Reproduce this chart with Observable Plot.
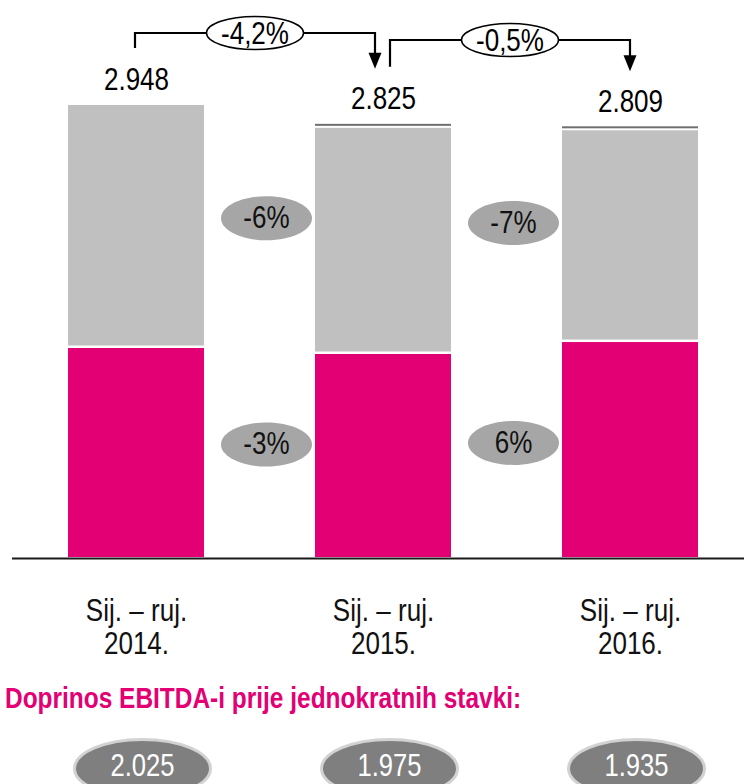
<!DOCTYPE html>
<html>
<head>
<meta charset="utf-8">
<script src="https://cdn.jsdelivr.net/npm/d3@7"></script>
<script src="https://cdn.jsdelivr.net/npm/@observablehq/plot@0.6"></script>
<style>
  body { margin: 0; background: #fff; }
  #title {
    height: 60px; line-height: 60px; padding-left: 5px; white-space: nowrap; overflow: hidden;
  }
  #title span {
    display: inline-block; transform: scaleX(0.815); transform-origin: 0 50%;
    font-family: "Liberation Sans", Arial, sans-serif; font-weight: bold;
    font-size: 30px; color: #e20074;
  }
</style>
</head>
<body>
<div id="chart"></div>
<div id="title"><span>Doprinos EBITDA-i prije jednokratnih stavki:</span></div>
<div id="ebitda"></div>
<script>
// ---- data ----
const categories = ["2014", "2015", "2016"];
const periodLabels = ["Sij. – ruj.\n2014.", "Sij. – ruj.\n2015.", "Sij. – ruj.\n2016."];
const pinkValues = [1363, 1324, 1402];
const grayValues = [1585, 1475, 1381];
const otherValues = [0, 26, 26];
const totals = [2948, 2825, 2809];
const grayChange = ["-6%", "-7%"];
const pinkChange = ["-3%", "6%"];
const totalChange = ["-4,2%", "-0,5%"];
const ebitdaValues = [2025, 1975, 1935];

// ---- helpers ----
const hr = d3.formatLocale({decimal: ",", thousands: ".", grouping: [3], currency: ["", ""]});
const fmt = hr.format(",");
const FONT = "'Liberation Sans', Arial, sans-serif";
const ellipse = (rx, ry) => ({
  draw(ctx) {
    const k = 0.5523;
    ctx.moveTo(rx, 0);
    ctx.bezierCurveTo(rx, ry * k, rx * k, ry, 0, ry);
    ctx.bezierCurveTo(-rx * k, ry, -rx, ry * k, -rx, 0);
    ctx.bezierCurveTo(-rx, -ry * k, -rx * k, -ry, 0, -ry);
    ctx.bezierCurveTo(rx * k, -ry, rx, -ry * k, rx, 0);
    ctx.closePath();
  }
});
// condense glyphs (the reference uses a narrow typeface)
function squeeze(root, f) {
  root.querySelectorAll("text").forEach(t => {
    const spans = t.querySelectorAll("tspan");
    const targets = spans.length ? Array.from(spans) : [t];
    targets.forEach(el => {
      const L = el.getComputedTextLength();
      if (L > 0) {
        el.setAttribute("textLength", L * f);
        el.setAttribute("lengthAdjust", "spacingAndGlyphs");
      }
    });
  });
}

const rows = categories.map((c, i) => ({
  cat: c, label: periodLabels[i], pink: pinkValues[i], gray: grayValues[i],
  other: otherValues[i], total: totals[i]
}));
const changes = grayChange.map((g, i) => ({
  to: categories[i + 1], gray: g, pink: pinkChange[i],
  grayMid: ((rows[i].pink + rows[i].gray / 2) + (rows[i + 1].pink + rows[i + 1].gray / 2)) / 2,
  pinkMid: (rows[i].pink / 2 + rows[i + 1].pink / 2) / 2
}));

const xScale = {type: "band", domain: categories, range: [18.6, 747.4], paddingInner: 0.4494, paddingOuter: 0.2};

const chart = Plot.plot({
  width: 744, height: 668,
  marginTop: 105, marginBottom: 111, marginLeft: 12, marginRight: 0,
  style: {fontFamily: FONT, background: "white"},
  x: {...xScale, axis: null},
  y: {domain: [0, d3.max(totals)], axis: null},
  marks: [
    Plot.barY(rows, {x: "cat", y1: 0, y2: "pink", fill: "#e20074"}),
    Plot.barY(rows, {x: "cat", y1: "pink", y2: d => d.pink + d.gray, fill: "#c0c0c0", insetBottom: 2.5}),
    Plot.barY(rows.filter(d => d.other > 0), {x: "cat", y1: d => d.pink + d.gray, y2: "total", fill: "#6f6f6f", insetBottom: 2}),
    Plot.ruleY([0], {stroke: "#1a1a1a", strokeWidth: 2, dy: 1}),
    Plot.text(rows, {x: "cat", y: "total", text: d => fmt(d.total), dy: -25, fontSize: 31, fill: "black"}),
    Plot.text(rows, {x: "cat", text: "label", frameAnchor: "bottom", lineAnchor: "top", dy: 40, fontSize: 31, lineHeight: 1.06, fill: "#111"}),
    Plot.dot(changes, {x: "to", y: "grayMid", dx: -117, dy: -16, symbol: ellipse(45.5, 22), fill: "#a6a6a6", stroke: "none"}),
    Plot.text(changes, {x: "to", y: "grayMid", dx: -117, dy: -16, text: "gray", fontSize: 31, fill: "#111"}),
    Plot.dot(changes, {x: "to", y: "pinkMid", dx: -117, dy: -10, symbol: ellipse(45.5, 22), fill: "#a6a6a6", stroke: "none"}),
    Plot.text(changes, {x: "to", y: "pinkMid", dx: -117, dy: -10, text: "pink", fontSize: 31, fill: "#111"})
  ]
});
document.getElementById("chart").append(chart);

// ---- bracket annotations for total change, placed with the plot's own scales ----
const sx = chart.scale("x"), sy = chart.scale("y");
const xc = c => sx.apply(c) + sx.bandwidth / 2;
const svg = d3.select(chart);
const g = svg.append("g");
const topY = sy.apply(d3.max(totals));
totalChange.forEach((lab, i) => {
  const n = categories.length;
  const x0 = xc(categories[i]) + (i > 0 ? 7 : -1);
  const x1 = xc(categories[i + 1]) + (i < n - 2 ? -8 : 0);
  const leftBottom = sy.apply(totals[i]) - 57;
  const tip = sy.apply(totals[i + 1]) - 55;
  const level = topY - 72 + i * 7;
  g.append("path")
    .attr("d", `M${x0},${leftBottom}V${level}H${x1}V${tip - 15}`)
    .attr("fill", "none").attr("stroke", "black").attr("stroke-width", 2.2);
  g.append("path")
    .attr("d", `M${x1 - 6.5},${tip - 16}L${x1 + 6.5},${tip - 16}L${x1},${tip}Z`)
    .attr("fill", "black");
  const mx = (x0 + x1) / 2;
  g.append("ellipse").attr("cx", mx).attr("cy", level).attr("rx", 48.5).attr("ry", 16.5)
    .attr("fill", "white").attr("stroke", "black").attr("stroke-width", 1.5);
  g.append("text").attr("x", mx).attr("y", level).attr("dy", "0.35em")
    .attr("text-anchor", "middle").attr("font-size", 31).attr("font-family", FONT)
    .attr("fill", "black").text(lab);
});
squeeze(chart, 0.84);

// ---- EBITDA contribution ovals ----
const ebitdaRows = categories.map((c, i) => ({cat: c, value: ebitdaValues[i]}));
const ebitdaPlot = Plot.plot({
  width: 744, height: 60,
  marginTop: 0, marginBottom: 0, marginLeft: 12, marginRight: 0,
  style: {fontFamily: FONT, background: "white", overflow: "hidden"},
  x: {...xScale, axis: null},
  marks: [
    Plot.dot(ebitdaRows, {x: "cat", dx: 6, dy: 10, symbol: ellipse(68, 29), fill: "#7f7f7f", stroke: "#d2d2d2", strokeWidth: 3}),
    Plot.text(ebitdaRows, {x: "cat", dx: 6, dy: 7, text: d => fmt(d.value), fontSize: 32, fill: "white"})
  ]
});
document.getElementById("ebitda").append(ebitdaPlot);
squeeze(ebitdaPlot, 0.8);
</script>
</body>
</html>
